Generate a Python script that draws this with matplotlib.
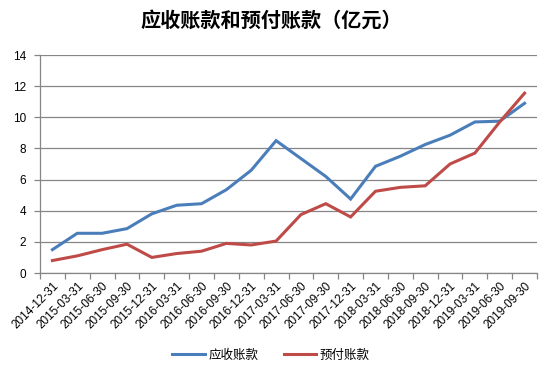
import numpy as np
import matplotlib
matplotlib.use("Agg")
import matplotlib.pyplot as plt

plt.rcParams["font.family"] = ["Noto Sans CJK SC", "DejaVu Sans"]

dates = ["2014-12-31", "2015-03-31", "2015-06-30", "2015-09-30", "2015-12-31",
         "2016-03-31", "2016-06-30", "2016-09-30", "2016-12-31", "2017-03-31",
         "2017-06-30", "2017-09-30", "2017-12-31", "2018-03-31", "2018-06-30",
         "2018-09-30", "2018-12-31", "2019-03-31", "2019-06-30", "2019-09-30"]
receivable = [1.5, 2.55, 2.55, 2.85, 3.8, 4.35, 4.45, 5.35, 6.6, 8.5,
              7.35, 6.2, 4.75, 6.85, 7.5, 8.25, 8.85, 9.7, 9.75, 10.9]
prepaid = [0.8, 1.1, 1.5, 1.85, 1.0, 1.25, 1.4, 1.9, 1.8, 2.05,
           3.75, 4.45, 3.6, 5.25, 5.5, 5.6, 7.0, 7.7, 9.7, 11.55]
series_names = ["应收账款", "预付账款"]
colors = ["#4A7EBB", "#BE4B48"]

fig = plt.figure(figsize=(5.42, 3.66), dpi=100)
ax = fig.add_axes([40 / 542, 1 - 273 / 366, 497 / 542, 218 / 366])

x = np.arange(len(dates))
for vals, name, c in zip((receivable, prepaid), series_names, colors):
    ax.plot(x, vals, color=c, lw=2.2, label=name, solid_joinstyle="miter")

ax.set_xlim(-0.5, len(dates) - 0.5)
ax.set_ylim(0, 14)
ax.set_yticks(np.arange(0, 15, 2))
ax.grid(axis="y", color="#868686", lw=0.9)
ax.set_axisbelow(True)
for s in ("top", "right"):
    ax.spines[s].set_visible(False)
for s in ("left", "bottom"):
    ax.spines[s].set_color("#868686")
    ax.spines[s].set_linewidth(0.9)

ax.set_xticks(x)
ax.set_xticklabels(dates, rotation=45, ha="right", rotation_mode="anchor",
                   fontsize=8.5, family="Liberation Sans")
ax.tick_params(axis="x", length=0, pad=5)
ax.set_xticks(np.arange(-0.5, len(dates), 1), minor=True)
ax.tick_params(axis="x", which="minor", length=4, color="#868686", width=0.9)
ax.tick_params(axis="y", length=4, color="#868686", width=0.9, labelsize=8.5, pad=6)
for lbl in ax.get_yticklabels():
    lbl.set_family("Liberation Sans")

fig.text(0.5, 1 - 20 / 366, "应收账款和预付账款（亿元）", ha="center", va="center",
         fontsize=14.5, fontweight="bold")
fig.legend(loc="center", bbox_to_anchor=(0.5, 1 - 355 / 366), ncol=2, frameon=False,
           fontsize=9, handlelength=2.6, columnspacing=2.0, handletextpad=0.3)

fig.savefig("out.png", dpi=100)
